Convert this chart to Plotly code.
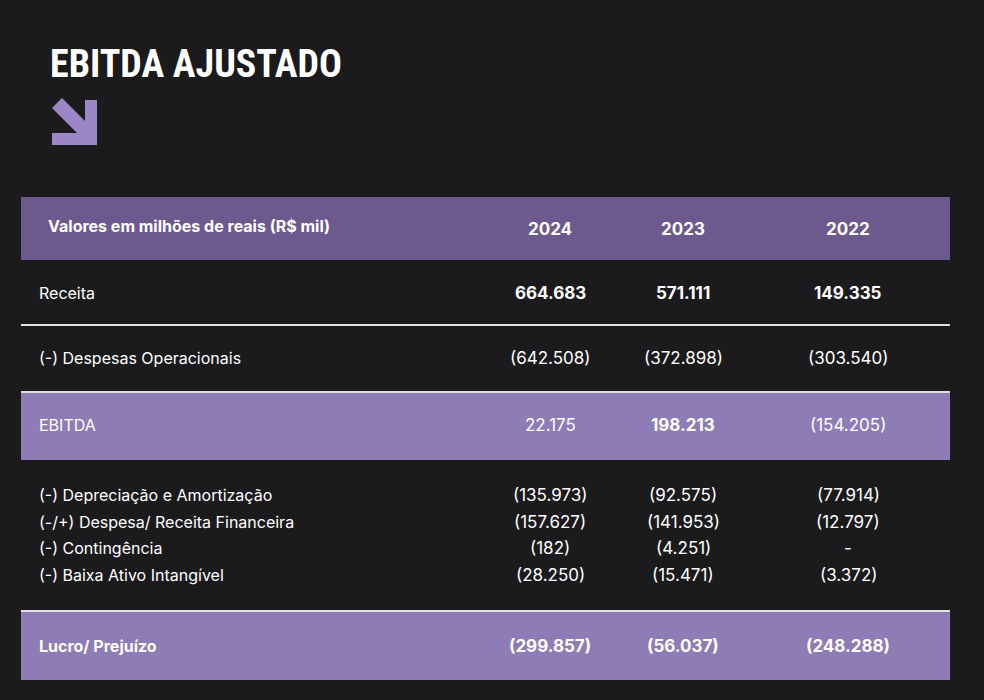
import plotly.graph_objects as go

# dados da tabela
anos = ["2024", "2023", "2022"]
cabecalho = "Valores em milhões de reais (R$ mil)"
linhas = [
    "Receita",
    "(-) Despesas Operacionais",
    "EBITDA",
    "(-) Depreciação e Amortização",
    "(-/+) Despesa/ Receita Financeira",
    "(-) Contingência",
    "(-) Baixa Ativo Intangível",
    "Lucro/ Prejuízo",
]
v2024 = ["664.683", "(642.508)", "22.175", "(135.973)", "(157.627)", "(182)", "(28.250)", "(299.857)"]
v2023 = ["571.111", "(372.898)", "198.213", "(92.575)", "(141.953)", "(4.251)", "(15.471)", "(56.037)"]
v2022 = ["149.335", "(303.540)", "(154.205)", "(77.914)", "(12.797)", "-", "(3.372)", "(248.288)"]

# estilo
linha_y = [293, 358, 425, 495, 522, 548, 575, 646]
col_x = [550, 683, 848]
negrito = {
    "2024": [True, False, False, False, False, False, False, True],
    "2023": [True, False, True, False, False, False, False, True],
    "2022": [True, False, False, False, False, False, False, True],
}

fig = go.Figure()
fig.add_trace(go.Scatter(x=[0, 984], y=[0, 700], mode="markers", marker=dict(opacity=0), hoverinfo="skip"))

# faixas roxas
for y0, y1, cor in [(197, 260, "#6c5a8e"), (392, 460, "#8d7cb5"), (611, 680, "#8d7cb5")]:
    fig.add_shape(type="rect", x0=21, x1=950, y0=y0, y1=y1, fillcolor=cor, line_width=0, layer="below")
for y in [325, 392, 611]:
    fig.add_shape(type="line", x0=21, x1=950, y0=y, y1=y, line=dict(color="#e0e0e0", width=2))

# seta
roxo = "#9b86c6"
fig.add_shape(type="path", path="M 52 108 L 62 98 L 92 128 L 82 138 Z", fillcolor=roxo, line_width=0)
fig.add_shape(type="path", path="M 52 133 L 97 133 L 97 145 L 52 145 Z", fillcolor=roxo, line_width=0)
fig.add_shape(type="path", path="M 85 100 L 97 100 L 97 145 L 85 145 Z", fillcolor=roxo, line_width=0)

ann = []
ann.append(dict(x=48, y=64, text="<b>EBITDA AJUSTADO</b>", xanchor="left",
                font=dict(size=38, family="Roboto Condensed, Liberation Sans Narrow, Roboto", color="white")))
ann.append(dict(x=46, y=226, text="<b>" + cabecalho + "</b>", xanchor="left", font=dict(size=16, color="white")))
for ano, x in zip(anos, col_x):
    ann.append(dict(x=x, y=229, text="<b>" + ano + "</b>", font=dict(size=17, color="white")))
for i, rot in enumerate(linhas):
    t = "<b>" + rot + "</b>" if i == 7 else rot
    ann.append(dict(x=37, y=linha_y[i], text=t, xanchor="left", font=dict(size=16, color="white")))
for ano, x, vals in zip(anos, col_x, [v2024, v2023, v2022]):
    for i, v in enumerate(vals):
        t = "<b>" + v + "</b>" if negrito[ano][i] else v
        ann.append(dict(x=x, y=linha_y[i], text=t, font=dict(size=17, color="white")))
for a in ann:
    a.update(xref="x", yref="y", showarrow=False, yanchor="middle")
    a["font"].setdefault("family", "Inter, Roboto, sans-serif")

fig.update_layout(
    width=984, height=700, margin=dict(l=0, r=0, t=0, b=0),
    paper_bgcolor="#1b1a1d", plot_bgcolor="#1b1a1d", showlegend=False,
    xaxis=dict(range=[0, 984], visible=False, fixedrange=True),
    yaxis=dict(range=[700, 0], visible=False, fixedrange=True),
    annotations=ann,
)
fig.write_html("out.html", config={"displayModeBar": False},
               post_script="document.body.style.margin='0';document.body.style.background='#1b1a1d';")
